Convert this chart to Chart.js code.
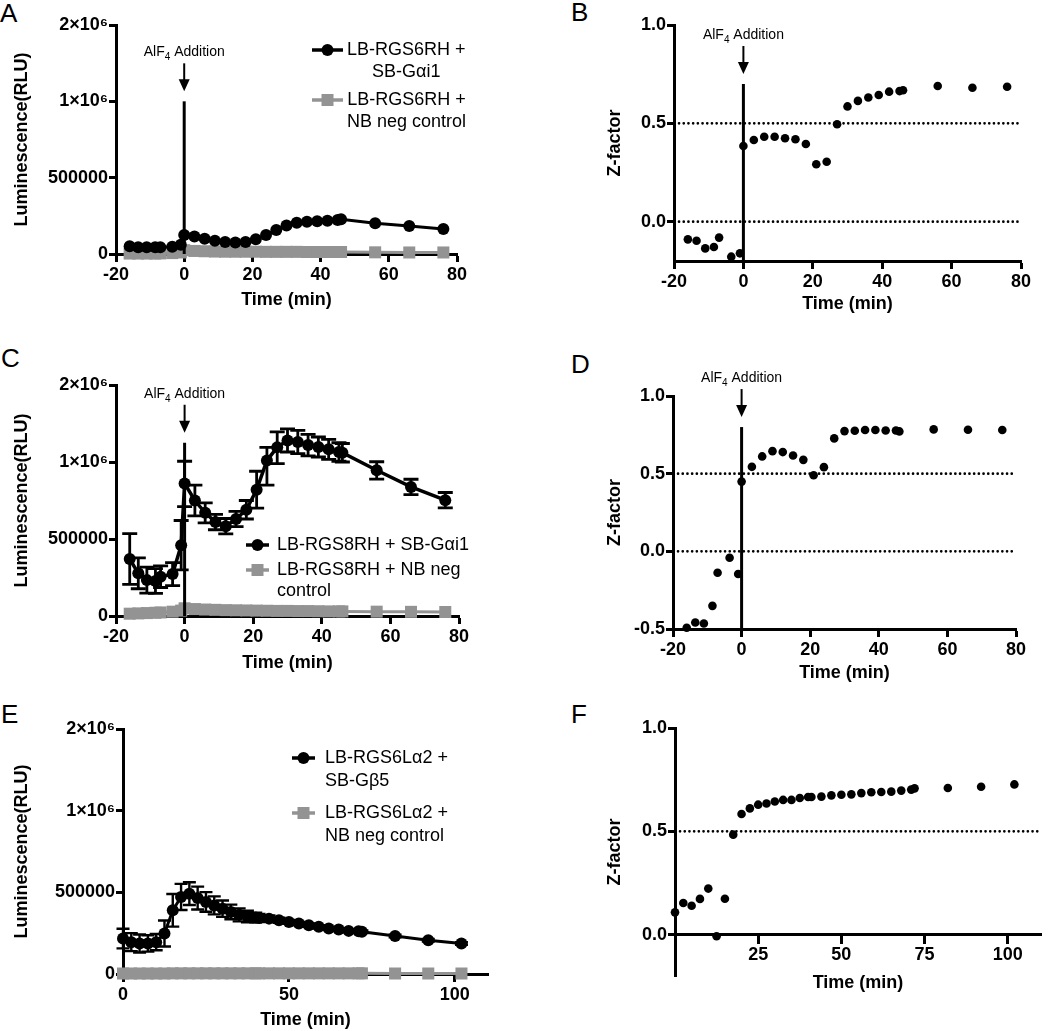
<!DOCTYPE html>
<html>
<head>
<meta charset="utf-8">
<script src="https://cdn.jsdelivr.net/npm/chart.js@4.4.1/dist/chart.umd.min.js"></script>
<style>
  body { margin: 0; background: #fff; width: 1050px; height: 1031px; position: relative; overflow: hidden;
         font-family: "Liberation Sans", Arial, Helvetica, sans-serif; }
  canvas { position: absolute; }
  .letter { position: absolute; font-size: 26px; line-height: 1; color: #000; }
</style>
</head>
<body>
<div class="letter" style="left:0px;top:0px">A</div>
<div class="letter" style="left:571px;top:-1px">B</div>
<div class="letter" style="left:1px;top:345px">C</div>
<div class="letter" style="left:571px;top:351px">D</div>
<div class="letter" style="left:1px;top:701px">E</div>
<div class="letter" style="left:571px;top:701px">F</div>

<canvas id="cA" width="520" height="320" style="left:0px;top:0px"></canvas>
<canvas id="cB" width="530" height="320" style="left:520px;top:0px"></canvas>
<canvas id="cC" width="520" height="345" style="left:0px;top:330px"></canvas>
<canvas id="cD" width="530" height="360" style="left:520px;top:330px"></canvas>
<canvas id="cE" width="520" height="351" style="left:0px;top:680px"></canvas>
<canvas id="cF" width="530" height="351" style="left:520px;top:680px"></canvas>

<script>
// ---- data ----
const timeAD = [-16, -13.5, -11, -8.5, -7, -3.5, -1, 0, 3, 6, 9, 12, 15, 18, 21, 24, 27, 30, 33, 36, 39, 42, 45, 46, 56, 66, 76];

// A: LB-RGS6RH
const rgs6Gai1 = [50000, 44000, 44000, 44000, 44000, 48000, 60000, 125000, 114000, 100000, 87000, 78000, 76000, 78000, 96000, 124000, 157000, 186000, 205000, 212000, 214000, 218000, 223000, 227000, 201000, 183000, 164000];
const rgs6Neg = [3000, 3000, 3000, 3000, 4000, 6000, 10000, 25000, 20000, 18000, 16000, 15000, 15000, 15000, 15000, 14000, 14000, 14000, 14000, 13000, 13000, 13000, 13000, 13000, 11000, 10000, 10000];

// B: Z-factor for A
const zRgs6 = [-0.09, -0.097, -0.136, -0.129, -0.081, -0.178, -0.161, 0.385, 0.415, 0.432, 0.432, 0.424, 0.419, 0.395, 0.292, 0.305, 0.495, 0.586, 0.614, 0.631, 0.644, 0.661, 0.664, 0.668, 0.69, 0.681, 0.686];

// C: LB-RGS8RH
const rgs8Gai1 = [370000, 277000, 233000, 227000, 255000, 272000, 460000, 860000, 750000, 670000, 610000, 583000, 630000, 690000, 820000, 1020000, 1190000, 1280000, 1260000, 1220000, 1195000, 1165000, 1130000, 1120000, 946000, 838000, 752000];
const rgs8Sem = [165000, 100000, 85000, 80000, 70000, 75000, 160000, 150000, 100000, 65000, 50000, 50000, 50000, 60000, 120000, 170000, 200000, 150000, 150000, 140000, 130000, 130000, 120000, 120000, 57000, 50000, 50000];
const rgs8Neg = [15000, 17000, 19000, 21000, 23000, 28000, 35000, 50000, 45000, 42000, 40000, 38000, 37000, 36000, 35000, 34000, 33000, 33000, 32000, 32000, 31000, 30000, 30000, 30000, 28000, 27000, 26000];

// D: Z-factor for C
const zRgs8 = [-0.492, -0.458, -0.465, -0.351, -0.138, -0.041, -0.146, 0.449, 0.544, 0.611, 0.645, 0.639, 0.617, 0.589, 0.49, 0.542, 0.727, 0.774, 0.776, 0.781, 0.781, 0.778, 0.778, 0.772, 0.785, 0.783, 0.781];

const timeEF = [0, 2.5, 5, 7.5, 10, 12.5, 15, 17.5, 20, 22.5, 25, 27.5, 30, 32.5, 35, 37.5, 40, 41, 44, 47, 50, 53, 56, 59, 62, 65, 68, 71, 72, 82, 92, 102];

// E: LB-RGS6La2
const la2Gb5 = [217000, 195000, 187000, 187000, 195000, 248000, 390000, 472000, 492000, 465000, 441000, 420000, 400000, 380000, 362000, 352000, 346000, 343000, 339000, 329000, 319000, 309000, 299000, 289000, 278000, 272000, 264000, 262000, 258000, 232000, 207000, 187000];
const la2Sem = [60000, 55000, 55000, 50000, 50000, 80000, 100000, 80000, 70000, 70000, 60000, 55000, 50000, 45000, 40000, 35000, 30000, 25000, 20000, 15000, 12000, 10000, 10000, 10000, 8000, 8000, 8000, 8000, 8000, 8000, 8000, 8000];
const la2Neg = [3000, 3000, 3000, 3000, 3000, 3000, 4000, 4000, 4000, 4000, 4000, 4000, 4000, 4000, 4000, 4000, 4000, 4000, 4000, 4000, 4000, 4000, 4000, 4000, 4000, 4000, 4000, 4000, 4000, 3000, 3000, 3000];

// F: Z-factor for E
const zLa2 = [0.108, 0.153, 0.14, 0.173, 0.223, -0.008, 0.174, 0.484, 0.584, 0.611, 0.629, 0.635, 0.644, 0.652, 0.652, 0.661, 0.666, 0.666, 0.668, 0.674, 0.677, 0.679, 0.685, 0.689, 0.69, 0.692, 0.697, 0.702, 0.708, 0.71, 0.716, 0.727];

const timeTicks = [-20, 0, 20, 40, 60, 80];
const timeTicksE = [0, 50, 100];
const timeTicksF = [25, 50, 75, 100];
const lumTicks = [0, 500000, 1000000, 2000000];
const zTicks = [0, 0.5, 1];
const zTicksD = [-0.5, 0, 0.5, 1];

// ---- look ----
const FONT = "'Liberation Sans', Arial, Helvetica, sans-serif";
const GREY = '#939393';
Chart.defaults.font.family = FONT;
Chart.defaults.color = '#000';
Chart.defaults.animation = false;
Chart.defaults.plugins.legend.display = false;
Chart.defaults.plugins.tooltip.enabled = false;

// Prism-style two-segment axis: 0..1e6 uses the lower 2/3, 1e6..max the upper 1/3
const BREAK_AT = 1000000;
const LOWER_PART = 2 / 3;
class SegmentedScale extends Chart.LinearScale {
  getPixelForValue(value) {
    if (value === null || value === undefined) return NaN;
    let d;
    if (value <= BREAK_AT) d = (value - this.min) / (BREAK_AT - this.min) * LOWER_PART;
    else d = LOWER_PART + (value - BREAK_AT) / (this.max - BREAK_AT) * (1 - LOWER_PART);
    return this.getPixelForDecimal(d);
  }
  getValueForPixel(pixel) {
    const d = this.getDecimalForPixel(pixel);
    if (d <= LOWER_PART) return this.min + d / LOWER_PART * (BREAK_AT - this.min);
    return BREAK_AT + (d - LOWER_PART) / (1 - LOWER_PART) * (this.max - BREAK_AT);
  }
}
SegmentedScale.id = 'segmented';
SegmentedScale.defaults = Chart.LinearScale.defaults;
Chart.register(SegmentedScale);

const pts = (xs, ys) => xs.map((x, i) => ({x: x, y: ys[i]}));

function timeAxis(ticks, min, max, fitH, titlePad, position) {
  return {
    type: 'linear', min: min, max: max, position: position || 'bottom',
    afterBuildTicks: s => { s.ticks = ticks.map(v => ({value: v})); },
    afterFit: s => { s.height = fitH; s.paddingLeft = 0; s.paddingRight = 0; },
    border: {display: true, color: '#000', width: 3},
    grid: {display: true, drawOnChartArea: false, drawTicks: true, tickLength: 8, tickWidth: 3, tickColor: '#000'},
    ticks: {font: {size: 18, weight: 'bold'}, padding: 2, maxRotation: 0, autoSkip: false, callback: v => String(v)},
    title: {display: true, text: 'Time (min)', font: {size: 18, weight: 'bold'}, padding: {top: 0, bottom: titlePad}}
  };
}

function valueAxis(type, min, max, ticks, fmt, fitW, title, titlePad) {
  return {
    type: type, min: min, max: max,
    afterBuildTicks: s => { s.ticks = ticks.map(v => ({value: v})); },
    afterFit: s => { s.width = fitW; s.paddingTop = 0; s.paddingBottom = 0; },
    border: {display: true, color: '#000', width: 3},
    grid: {display: true, drawOnChartArea: false, drawTicks: true, tickLength: 7, tickWidth: 3, tickColor: '#000'},
    ticks: {font: {size: 18, weight: 'bold'}, padding: 1, autoSkip: false, callback: fmt},
    title: {display: true, text: title, font: {size: 18, weight: 'bold'}, padding: {top: titlePad, bottom: 0}}
  };
}

const lumLabel = v => v === 2000000 ? '2×10⁶' : v === 1000000 ? '1×10⁶' : String(v);
const zLabel = v => v.toFixed(1);

function blackLine(xs, ys, width) {
  return {data: pts(xs, ys), borderColor: '#000', backgroundColor: '#000', borderWidth: width,
          pointRadius: 6, pointBorderWidth: 0, pointBackgroundColor: '#000', tension: 0, clip: false};
}
function greyLine(xs, ys) {
  return {data: pts(xs, ys), borderColor: GREY, backgroundColor: GREY, borderWidth: 3, pointStyle: 'rect',
          pointRadius: 8.5, pointBorderWidth: 0, pointBackgroundColor: GREY, tension: 0, clip: false};
}
function zDots(xs, ys) {
  return {data: pts(xs, ys), showLine: false, pointRadius: 4.3, pointBorderWidth: 0,
          pointBackgroundColor: '#000', backgroundColor: '#000', borderColor: '#000', clip: false};
}

// reference lines, error bars, AlF4 marker and legend
function extras(p) {
  return {
    id: 'extras',
    beforeDatasetsDraw(chart) {
      const {ctx, chartArea: a, scales: {x, y}} = chart;
      ctx.save();
      ctx.strokeStyle = '#000';
      (p.refLines || []).forEach(v => {
        const py = y.getPixelForValue(v);
        ctx.beginPath();
        ctx.setLineDash([0.1, 4.6]);
        ctx.lineCap = 'round';
        ctx.lineWidth = 2.6;
        ctx.moveTo(a.left + 5, py);
        ctx.lineTo(a.right, py);
        ctx.stroke();
      });
      ctx.setLineDash([]);
      ctx.lineCap = 'butt';
      if (p.err) {
        const e = p.err;
        ctx.lineWidth = e.width;
        e.x.forEach((t, i) => {
          const px = x.getPixelForValue(t);
          const hi = y.getPixelForValue(e.y[i] + e.sem[i]);
          const lo = y.getPixelForValue(e.y[i] - e.sem[i]);
          ctx.beginPath();
          ctx.moveTo(px, hi); ctx.lineTo(px, lo);
          ctx.moveTo(px - e.cap, hi); ctx.lineTo(px + e.cap, hi);
          ctx.moveTo(px - e.cap, lo); ctx.lineTo(px + e.cap, lo);
          ctx.stroke();
        });
      }
      ctx.restore();
    },
    afterDatasetsDraw(chart) {
      const {ctx, chartArea: a, scales: {x, y}} = chart;
      ctx.save();
      if (p.addition) {
        const ad = p.addition;
        const px = x.getPixelForValue(ad.at);
        const top = y.getPixelForValue(ad.lineTop);
        ctx.strokeStyle = '#000';
        ctx.fillStyle = '#000';
        ctx.lineWidth = 3;
        ctx.beginPath();
        ctx.moveTo(px, top); ctx.lineTo(px, a.bottom);
        ctx.stroke();
        const tip = top - 10, tail = tip - 28;
        ctx.lineWidth = 2;
        ctx.beginPath();
        ctx.moveTo(px, tail); ctx.lineTo(px, tip - 8);
        ctx.stroke();
        ctx.beginPath();
        ctx.moveTo(px - 5.5, tip - 12); ctx.lineTo(px + 5.5, tip - 12); ctx.lineTo(px, tip);
        ctx.closePath(); ctx.fill();
        const base = tail - 7;
        ctx.font = '14px ' + FONT;
        const w1 = ctx.measureText('AlF').width, w3 = ctx.measureText(' Addition').width;
        ctx.font = '10px ' + FONT;
        const w2 = ctx.measureText('4').width;
        let sx = px - (w1 + w2 + w3) / 2;
        ctx.textBaseline = 'alphabetic';
        ctx.textAlign = 'left';
        ctx.font = '14px ' + FONT;
        ctx.fillText('AlF', sx, base);
        ctx.font = '10px ' + FONT;
        ctx.fillText('4', sx + w1, base + 4);
        ctx.font = '14px ' + FONT;
        ctx.fillText(' Addition', sx + w1 + w2, base);
      }
      if (p.legend) {
        const lg = p.legend;
        ctx.font = '18px ' + FONT;
        ctx.textBaseline = 'middle';
        lg.entries.forEach(en => {
          const col = en.kind === 'rect' ? GREY : '#000';
          const cy = en.y;
          const cx = lg.x + lg.w / 2;
          ctx.strokeStyle = col; ctx.fillStyle = col;
          ctx.lineWidth = 3.5;
          ctx.beginPath(); ctx.moveTo(lg.x, cy); ctx.lineTo(lg.x + lg.w, cy); ctx.stroke();
          ctx.beginPath();
          if (en.kind === 'rect') ctx.rect(cx - 6, cy - 6, 12, 12);
          else ctx.arc(cx, cy, 6, 0, Math.PI * 2);
          ctx.fill();
          ctx.fillStyle = '#000';
          const widths = en.lines.map(s => ctx.measureText(s).width);
          const maxW = Math.max.apply(null, widths);
          en.lines.forEach((s, k) => {
            const tx = lg.align === 'center' ? lg.textX + (maxW - widths[k]) / 2 : lg.textX;
            ctx.fillText(s, tx, cy + k * lg.gap);
          });
        });
      }
      ctx.restore();
    }
  };
}

function makeChart(id, datasets, scales, padding, p) {
  return new Chart(document.getElementById(id), {
    type: 'line',
    data: {datasets: datasets},
    options: {responsive: false, devicePixelRatio: 1, layout: {padding: padding}, scales: scales},
    plugins: [extras(p)]
  });
}

// A
makeChart('cA',
  [blackLine(timeAD, rgs6Gai1, 3), greyLine(timeAD, rgs6Neg)],
  {x: timeAxis(timeTicks, -20, 80, 66, 9), y: valueAxis('segmented', 0, 2000000, lumTicks, lumLabel, 116, 'Luminescence(RLU)', 11)},
  {left: 0, top: 25, right: 63, bottom: 0},
  {addition: {at: 0, lineTop: 1000000},
   legend: {x: 312, w: 31, textX: 347, align: 'center', gap: 22, entries: [
     {kind: 'circle', y: 50, lines: ['LB-RGS6RH +', 'SB-Gαi1']},
     {kind: 'rect', y: 100, lines: ['LB-RGS6RH +', 'NB neg control']}]}});

// B
makeChart('cB',
  [zDots(timeAD, zRgs6)],
  {x: timeAxis(timeTicks, -20, 80, 59, 5), y: valueAxis('linear', -0.2, 1, zTicks, zLabel, 154, 'Z-factor', 84)},
  {left: 0, top: 25, right: 29, bottom: 0},
  {refLines: [0.5, 0], addition: {at: 0, lineTop: 0.7}});

// C
makeChart('cC',
  [blackLine(timeAD, rgs8Gai1, 3.5), greyLine(timeAD, rgs8Neg)],
  {x: timeAxis(timeTicks, -20, 80, 59, 1), y: valueAxis('segmented', 0, 2000000, lumTicks, lumLabel, 116, 'Luminescence(RLU)', 11)},
  {left: 0, top: 55, right: 61, bottom: 0},
  {err: {x: timeAD, y: rgs8Gai1, sem: rgs8Sem, cap: 7.5, width: 2.8},
   addition: {at: 0, lineTop: 1250000},
   legend: {x: 246, w: 23, textX: 277, align: 'left', gap: 21, entries: [
     {kind: 'circle', y: 215, lines: ['LB-RGS8RH + SB-Gαi1']},
     {kind: 'rect', y: 240, lines: ['LB-RGS8RH + NB neg', 'control']}]}});

// D
makeChart('cD',
  [zDots(timeAD, zRgs8)],
  {x: timeAxis(timeTicks, -20, 80, 61, 6), y: valueAxis('linear', -0.5, 1, zTicksD, zLabel, 153, 'Z-factor', 84)},
  {left: 0, top: 66, right: 34, bottom: 0},
  {refLines: [0.5, 0], addition: {at: 0, lineTop: 0.8}});

// E
makeChart('cE',
  [blackLine(timeEF, la2Gb5, 3), greyLine(timeEF, la2Neg)],
  {x: timeAxis(timeTicksE, 0, 110, 57, 0), y: valueAxis('segmented', 0, 2000000, lumTicks, lumLabel, 123, 'Luminescence(RLU)', 11)},
  {left: 0, top: 49, right: 32, bottom: 0},
  {err: {x: timeEF, y: la2Gb5, sem: la2Sem, cap: 6.5, width: 2.4},
   legend: {x: 292, w: 23, textX: 325, align: 'left', gap: 23, entries: [
     {kind: 'circle', y: 78, lines: ['LB-RGS6Lα2 +', 'SB-Gβ5']},
     {kind: 'rect', y: 133, lines: ['LB-RGS6Lα2 +', 'NB neg control']}]}});

// F
makeChart('cF',
  [zDots(timeEF, zLa2)],
  {x: timeAxis(timeTicksF, 0, 110, 60, 1, {y: 0}), y: valueAxis('linear', -0.2, 1, zTicks, zLabel, 155, 'Z-factor', 84)},
  {left: 0, top: 48, right: 9, bottom: 55},
  {refLines: [0.5]});
</script>
</body>
</html>
